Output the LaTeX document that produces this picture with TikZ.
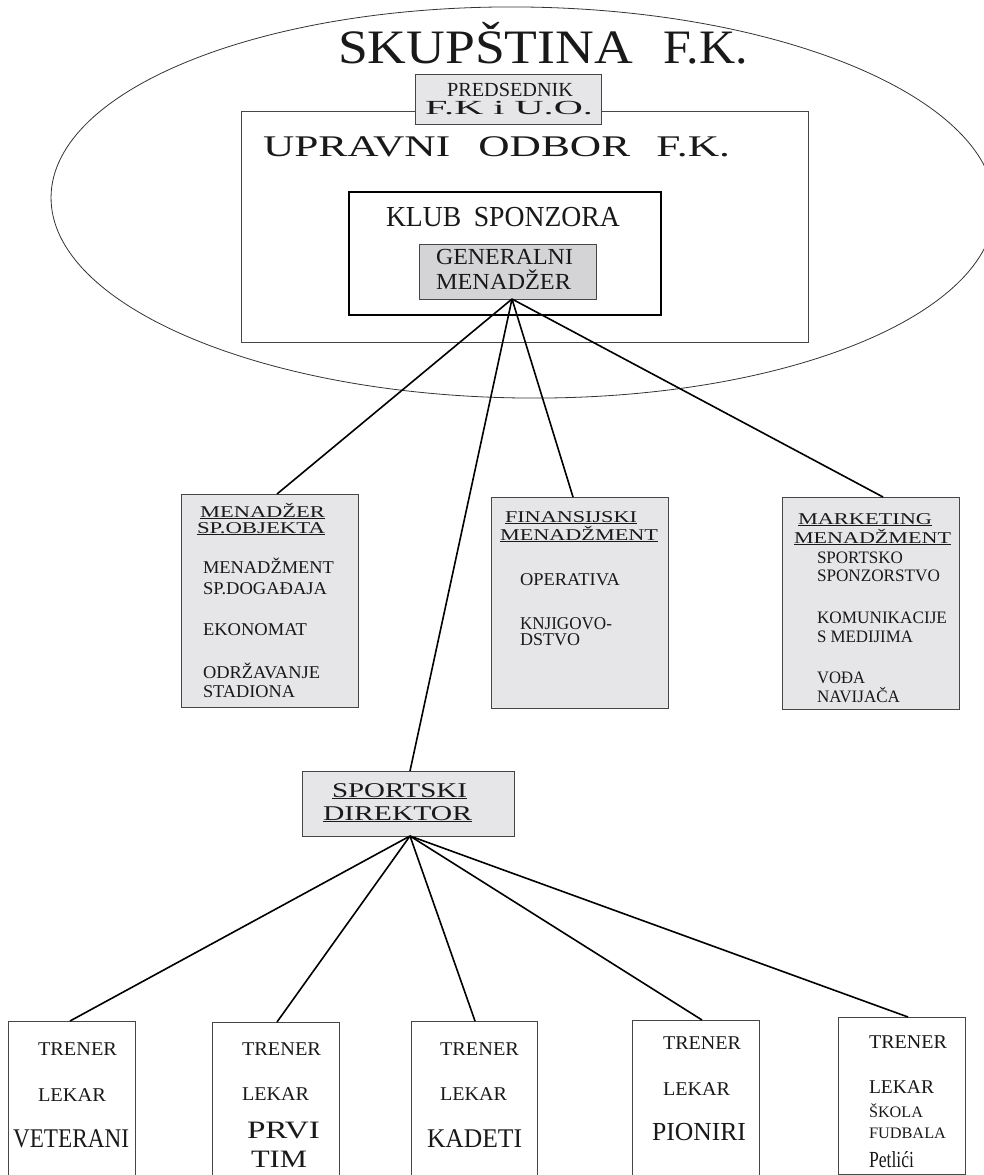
\documentclass[tikz,border=0pt]{standalone}
\usepackage{fontspec}
\setmainfont{Liberation Serif}
\usepackage{graphicx}
\usetikzlibrary{shapes.geometric,fit,calc}
\definecolor{lfill}{RGB}{230,230,232}
\definecolor{gfill}{RGB}{212,212,214}
\definecolor{ink}{RGB}{25,25,25}
\definecolor{edge}{RGB}{70,70,70}
\newcommand{\boxtxt}[3]{\resizebox{#2pt}{\height}{\fontsize{#1}{#1}\selectfont #3}}
\begin{document}
\begin{tikzpicture}[x=1pt,y=-1pt,
  lbl/.style={anchor=base west, inner sep=0pt, outer sep=0pt, text=ink},
  fbox/.style={draw=edge, line width=0.9pt, fill=lfill, inner sep=0pt, outer sep=0pt},
  gbox/.style={fbox, fill=gfill},
  wbox/.style={draw=edge, line width=0.9pt, inner sep=0pt, outer sep=0pt},
  kbox/.style={draw=black, line width=1.4pt, inner sep=0pt, outer sep=0pt},
  conn/.style={draw=black, line width=1.6pt}]
\useasboundingbox[fill=white] (0,0) rectangle (984,1175);

% ellipse (Skupstina)
\node[draw=black!80, line width=0.8pt, ellipse, inner sep=0pt, minimum width=944pt, minimum height=391pt, rotate=-0.7] (ell) at (523,202.5) {};

% top boxes
\node[wbox, fit={(241,111) (808,342)}] (uo) {};
\node[kbox, fit={(349,192) (661,315)}] (ks) {};
\node[gbox, fit={(419,244) (596,299)}] (gm) {};
\node[fbox, fit={(415,74) (601,124)}] (pr) {};

% middle boxes
\node[fbox, fit={(181,494) (358,707)}] (mso) {};
\node[fbox, fit={(491,497) (668,708)}] (fin) {};
\node[fbox, fit={(782,497) (959,709)}] (mkt) {};
\node[fbox, fit={(302,771) (514,836)}] (sd) {};

% bottom boxes
\node[wbox, fit={(8,1021) (135,1195)}] (b1) {};
\node[wbox, fit={(212,1022) (339,1195)}] (b2) {};
\node[wbox, fit={(411,1021) (537,1195)}] (b3) {};
\node[wbox, fit={(632,1020) (759,1195)}] (b4) {};
\node[wbox, fit={(838,1017) (965,1174)}] (b5) {};

% connectors
\draw[conn] ($(gm.south)+(4.5,0)$) -- ($(mso.north)+(7.5,0)$);
\draw[conn] ($(gm.south)+(4.5,0)$) -- ($(sd.north)+(2,0)$);
\draw[conn] ($(gm.south)+(4.5,0)$) -- ($(fin.north)+(-6.5,0)$);
\draw[conn] ($(gm.south)+(4.5,0)$) -- ($(mkt.north)+(12.5,0)$);
\draw[conn] ($(sd.south)+(2,0)$) -- ($(b1.north)+(-1.5,0)$);
\draw[conn] ($(sd.south)+(2,0)$) -- ($(b2.north)+(1.5,0)$);
\draw[conn] ($(sd.south)+(2,0)$) -- ($(b3.north)+(1,0)$);
\draw[conn] ($(sd.south)+(2,0)$) -- ($(b4.north)+(6.5,0)$);
\draw[conn] ($(sd.south)+(2,0)$) -- (b5.north -| 908,0);

% top texts
\node[lbl] (tsk) at (338,63) {\boxtxt{48}{295}{SKUPŠTINA}\hspace{30pt}\boxtxt{48}{85}{F.K.}};
\node[lbl] (tpr1) at (447,96) {\boxtxt{20}{126}{PREDSEDNIK}};
\node[lbl] (tpr2) at (425,114) {\boxtxt{20}{168}{F.K i U.O.}};
\node[lbl] (tuo) at (263,156) {\boxtxt{30}{467}{UPRAVNI\hspace{0.65em}ODBOR\hspace{0.6em}F.K.}};
\node[lbl] (tks) at (386,226) {\boxtxt{29}{234}{KLUB\hspace{0.45em}SPONZORA}};
\node[lbl] (tgm1) at (436,264) {\boxtxt{23}{137}{GENERALNI}};
\node[lbl] (tgm2) at (436,289) {\boxtxt{23}{135}{MENADŽER}};

% MSO texts
\node[lbl] (ms1) at (200,517) {\boxtxt{16.5}{125}{\underline{MENADŽER}}};
\node[lbl] (ms2) at (197,533) {\boxtxt{16.5}{128}{\underline{SP.OBJEKTA}}};
\node[lbl] (ms3) at (203,573) {\boxtxt{18}{131}{MENADŽMENT}};
\node[lbl] (ms4) at (203,594) {\boxtxt{18}{124}{SP.DOGAĐAJA}};
\node[lbl] (ms5) at (203,635) {\boxtxt{18}{104}{EKONOMAT}};
\node[lbl] (ms6) at (203,678) {\boxtxt{18}{117}{ODRŽAVANJE}};
\node[lbl] (ms7) at (203,697) {\boxtxt{18}{92}{STADIONA}};

% FIN texts
\node[lbl] (fi1) at (505,522) {\boxtxt{16.5}{132}{\underline{FINANSIJSKI}}};
\node[lbl] (fi2) at (500,540) {\boxtxt{16.5}{158}{\underline{MENADŽMENT}}};
\node[lbl] (fi3) at (520,585) {\boxtxt{18}{100}{OPERATIVA}};
\node[lbl] (fi4) at (520,629) {\boxtxt{18}{92}{KNJIGOVO-}};
\node[lbl] (fi5) at (520,645) {\boxtxt{18}{60}{DSTVO}};

% MKT texts
\node[lbl] (mk1) at (798,524) {\boxtxt{16.5}{134}{\underline{MARKETING}}};
\node[lbl] (mk2) at (794,543) {\boxtxt{16.5}{157}{\underline{MENADŽMENT}}};
\node[lbl] (mk3) at (817,563) {\boxtxt{17.5}{86}{SPORTSKO}};
\node[lbl] (mk4) at (817,581) {\boxtxt{17.5}{123}{SPONZORSTVO}};
\node[lbl] (mk5) at (817,623) {\boxtxt{17.5}{130}{KOMUNIKACIJE}};
\node[lbl] (mk6) at (817,642) {\boxtxt{17.5}{96}{S MEDIJIMA}};
\node[lbl] (mk7) at (817,683) {\boxtxt{17.5}{48}{VOĐA}};
\node[lbl] (mk8) at (817,702) {\boxtxt{17.5}{83}{NAVIJAČA}};

% SD texts
\node[lbl] (sd1) at (332,797) {\boxtxt{21}{135}{\underline{SPORTSKI}}};
\node[lbl] (sd2) at (323,820) {\boxtxt{21}{149}{\underline{DIREKTOR}}};

% bottom texts
\node[lbl] (b1a) at (38,1055) {\boxtxt{19.5}{79}{TRENER}};
\node[lbl] (b1b) at (38,1101) {\boxtxt{19.5}{68}{LEKAR}};
\node[lbl] (b1c) at (13,1147) {\boxtxt{27}{116}{VETERANI}};

\node[lbl] (b2a) at (242,1055) {\boxtxt{19.5}{79}{TRENER}};
\node[lbl] (b2b) at (242,1100) {\boxtxt{19.5}{67}{LEKAR}};
\node[lbl] (b2c) at (247,1138) {\boxtxt{25}{73}{PRVI}};
\node[lbl] (b2d) at (251,1167) {\boxtxt{25}{56}{TIM}};

\node[lbl] (b3a) at (440,1055) {\boxtxt{19.5}{79}{TRENER}};
\node[lbl] (b3b) at (440,1100) {\boxtxt{19.5}{67}{LEKAR}};
\node[lbl] (b3c) at (427,1147) {\boxtxt{27}{95}{KADETI}};

\node[lbl] (b4a) at (663,1049) {\boxtxt{19.5}{78}{TRENER}};
\node[lbl] (b4b) at (663,1095) {\boxtxt{19.5}{67}{LEKAR}};
\node[lbl] (b4c) at (652,1140) {\boxtxt{26}{94}{PIONIRI}};

\node[lbl] (b5a) at (869,1048) {\boxtxt{19.5}{78}{TRENER}};
\node[lbl] (b5b) at (869,1093) {\boxtxt{19.5}{65}{LEKAR}};
\node[lbl] (b5c) at (869,1117) {\boxtxt{16}{54}{ŠKOLA}};
\node[lbl] (b5d) at (869,1138) {\boxtxt{16}{77}{FUDBALA}};
\node[lbl] (b5e) at (869,1167) {\boxtxt{23}{45}{Petlići}};
\end{tikzpicture}
\end{document}
